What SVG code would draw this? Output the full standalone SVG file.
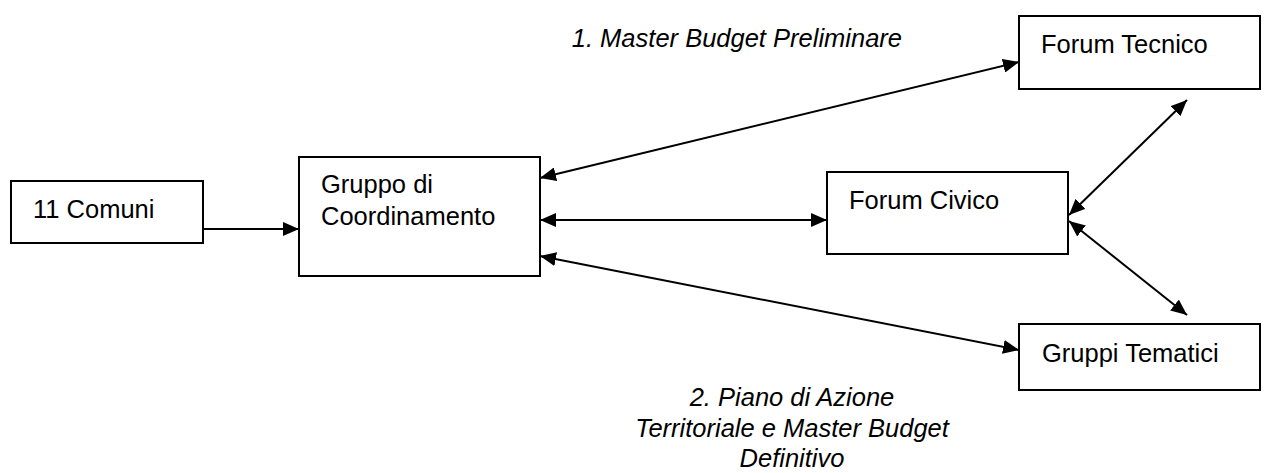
<svg xmlns="http://www.w3.org/2000/svg" width="1275" height="473" viewBox="0 0 1275 473">
<style>
.box{fill:#fff;stroke:#000;stroke-width:2}
.t{font-family:"Liberation Sans",Arial,sans-serif;font-size:25.5px;fill:#000}
.lbl{font-family:"Liberation Sans",Arial,sans-serif;font-size:25.5px;font-style:italic;fill:#000}
.c{fill:none;stroke:#000;stroke-width:2}
</style>
<defs>
<marker id="ah" markerUnits="userSpaceOnUse" markerWidth="17" markerHeight="14" refX="16" refY="7" orient="auto-start-reverse">
<path d="M0,0 L16,7 L0,14 z" fill="#000"/>
</marker>
</defs>
<rect width="1275" height="473" fill="#fff"/>
<g id="connectors">
<line class="c" x1="203" y1="229" x2="299" y2="229" marker-end="url(#ah)"/>
<line class="c" x1="540" y1="220" x2="827" y2="220" marker-start="url(#ah)" marker-end="url(#ah)"/>
<line class="c" x1="540" y1="178" x2="1019" y2="62" marker-start="url(#ah)" marker-end="url(#ah)"/>
<line class="c" x1="540" y1="256" x2="1019" y2="350" marker-start="url(#ah)" marker-end="url(#ah)"/>
<line class="c" x1="1069" y1="215" x2="1187" y2="100" marker-start="url(#ah)" marker-end="url(#ah)"/>
<line class="c" x1="1069" y1="221" x2="1187" y2="315" marker-start="url(#ah)" marker-end="url(#ah)"/>
</g>
<g id="comuni">
<rect class="box" x="11" y="181" width="192" height="62"/>
<text class="t" x="33" y="218">11 Comuni</text>
</g>
<g id="gruppo">
<rect class="box" x="299" y="157" width="241" height="119"/>
<text class="t" x="321" y="193">Gruppo di</text>
<text class="t" x="321" y="225">Coordinamento</text>
</g>
<g id="civico">
<rect class="box" x="827" y="172" width="241" height="82"/>
<text class="t" x="849" y="209">Forum Civico</text>
</g>
<g id="tecnico">
<rect class="box" x="1019" y="16" width="241" height="73"/>
<text class="t" x="1041" y="53">Forum Tecnico</text>
</g>
<g id="tematici">
<rect class="box" x="1019" y="324" width="241" height="66"/>
<text class="t" x="1042" y="362">Gruppi Tematici</text>
</g>
<g id="labels">
<text class="lbl" x="902" y="47" text-anchor="end">1. Master Budget Preliminare</text>
<text class="lbl" x="792" y="406" text-anchor="middle">2. Piano di Azione</text>
<text class="lbl" x="792" y="437" text-anchor="middle">Territoriale e Master Budget</text>
<text class="lbl" x="792" y="467" text-anchor="middle">Definitivo</text>
</g>
</svg>
